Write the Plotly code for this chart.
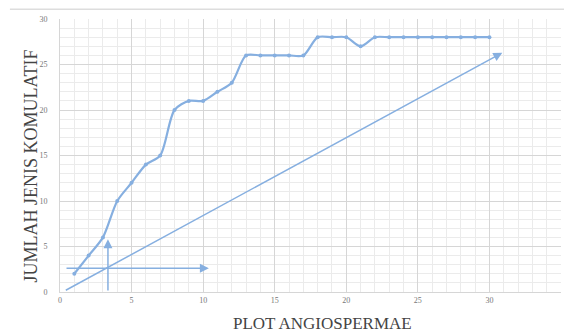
import plotly.graph_objects as go

plots = list(range(1, 31))
jumlah = [2, 4, 6, 10, 12, 14, 15, 20, 21, 21, 22, 23, 26, 26, 26, 26, 26, 28, 28, 28,
          27, 28, 28, 28, 28, 28, 28, 28, 28, 28]

# arrows: (start_x, start_y, end_x, end_y)
arrow_diag = (0.3, 0.1, 30.9, 26.3)
arrow_horiz = (0.35, 2.6, 10.4, 2.6)
arrow_vert = (3.35, 0.0, 3.35, 5.8)

x_ticks = [0, 5, 10, 15, 20, 25, 30, 35]
y_ticks = [0, 5, 10, 15, 20, 25, 30]

BLUE = "#86afe0"

fig = go.Figure()
fig.add_trace(go.Scatter(
    x=plots, y=jumlah, mode="lines+markers",
    line=dict(color=BLUE, width=2.2, shape="spline", smoothing=0.8),
    marker=dict(color=BLUE, size=4),
    showlegend=False, hoverinfo="skip",
))

for (x0, y0, x1, y1) in [arrow_diag, arrow_horiz, arrow_vert]:
    fig.add_annotation(
        x=x1, y=y1, ax=x0, ay=y0, xref="x", yref="y", axref="x", ayref="y",
        showarrow=True, arrowhead=2, arrowsize=1.2, arrowwidth=1.5,
        arrowcolor=BLUE, text="",
    )

fig.add_annotation(
    text="JUMLAH JENIS KOMULATIF", xref="paper", yref="paper",
    x=-0.058, xanchor="center", y=0.5, yanchor="middle", yshift=-10,
    textangle=-90, showarrow=False,
    font=dict(family="Liberation Serif", size=18, color="#444444"),
)
fig.add_annotation(
    text="PLOT ANGIOSPERMAE", xref="paper", yref="paper",
    x=0.5, xanchor="center", y=0, yanchor="top", yshift=-20, xshift=12,
    showarrow=False,
    font=dict(family="Liberation Serif", size=17, color="#444444"),
)

# top border line of the chart area
fig.add_shape(type="line", xref="paper", yref="paper",
              x0=-0.1, x1=1.01, y0=1.036, y1=1.036,
              line=dict(color="#dddddd", width=1.5))

fig.update_xaxes(
    range=[0, 35], tickvals=x_ticks, ticks="",
    showgrid=True, gridcolor="#d6d6d6", gridwidth=1,
    minor=dict(dtick=1, showgrid=True, gridcolor="#ebebeb", gridwidth=1),
    showline=True, linecolor="#d6d6d6", zeroline=False,
    tickfont=dict(family="Liberation Serif", size=8, color="#777777"),
    fixedrange=True,
)
fig.update_yaxes(
    range=[0, 30], tickvals=y_ticks, ticks="",
    showgrid=True, gridcolor="#d6d6d6", gridwidth=1,
    minor=dict(dtick=1, showgrid=True, gridcolor="#ebebeb", gridwidth=1),
    showline=True, linecolor="#d6d6d6", zeroline=False,
    tickfont=dict(family="Liberation Serif", size=8, color="#777777"),
    ticklabelstandoff=10,
    fixedrange=True,
)

fig.update_layout(
    width=564, height=336,
    margin=dict(l=60, r=3, t=19, b=44),
    plot_bgcolor="white", paper_bgcolor="white",
)

fig.write_html("out.html")
